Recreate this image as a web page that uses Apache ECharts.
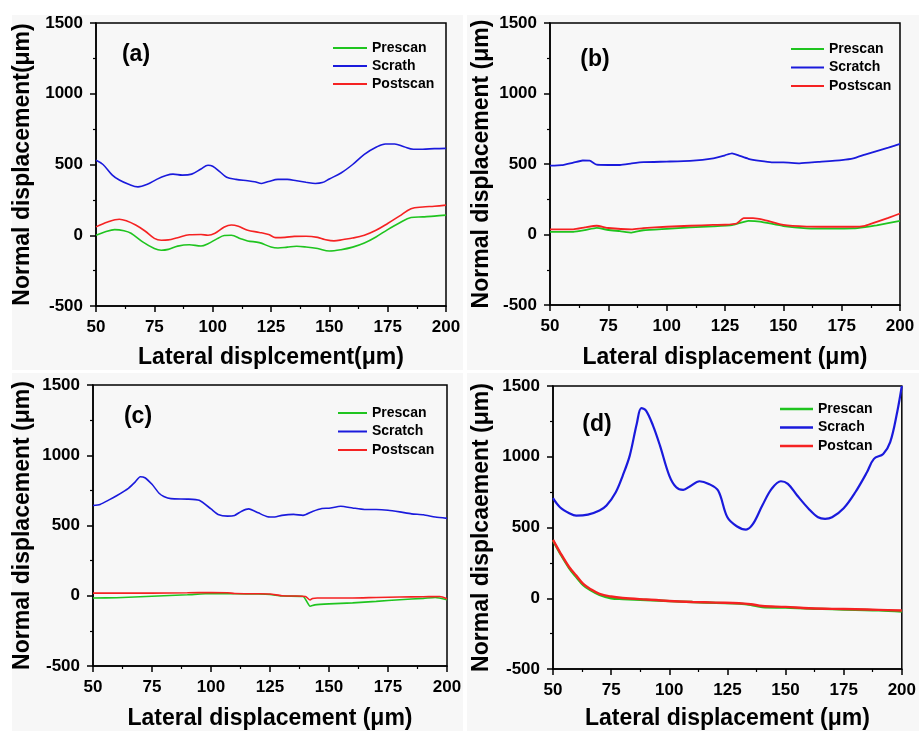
<!DOCTYPE html>
<html>
<head>
<meta charset="utf-8">
<script src="https://cdn.jsdelivr.net/npm/echarts@6/dist/echarts.min.js"></script>
<style>
  html, body { margin: 0; padding: 0; background: #fff; }
  #chart { width: 919px; height: 731px; }
</style>
</head>
<body>
<div id="chart"></div>
<script>
// Axis ranges and tick labels shared by the four panels
const xTicks = [50, 75, 100, 125, 150, 175, 200];
const yTicks = [-500, 0, 500, 1000, 1500];

// Panel (a)
const aPrescan = [[50,0],[54,25],[58,40],[62,32],[65,14],[70,-47],[75,-94],[78,-106],[81,-100],[85,-77],[90,-67],[95,-76],[98,-60],[102,-24],[105,-2],[108,0],[112,-24],[115,-40],[120,-52],[125,-83],[128,-90],[132,-84],[136,-78],[140,-83],[145,-94],[150,-111],[155,-102],[160,-84],[165,-55],[170,-12],[175,40],[180,87],[185,125],[190,130],[195,135],[200,142]];
const aScrath = [[50,530],[53,500],[57,425],[60,390],[64,360],[68,342],[72,360],[76,395],[80,422],[83,432],[87,425],[91,432],[95,468],[98,495],[100,488],[103,450],[106,410],[110,395],[115,385],[118,378],[121,366],[124,380],[128,395],[132,395],[136,385],[140,375],[144,366],[147,372],[150,398],[155,440],[160,500],[165,572],[170,622],[174,645],[178,645],[182,625],[186,608],[190,608],[195,612],[200,614]];
const aPostscan = [[50,59],[55,94],[60,113],[63,102],[67,72],[71,30],[75,-22],[78,-35],[81,-33],[85,-17],[90,3],[95,5],[98,0],[101,14],[105,58],[108,72],[111,63],[115,35],[120,20],[124,5],[127,-17],[131,-15],[135,-8],[140,-7],[145,-15],[148,-30],[152,-40],[156,-30],[160,-20],[165,0],[170,35],[175,83],[180,135],[185,188],[190,200],[195,205],[200,213]];

// Panel (b)
const bPrescan = [[50,19],[60,19],[65,31],[70,47],[75,32],[80,24],[85,14],[90,30],[100,40],[110,50],[120,57],[128,66],[135,97],[140,92],[150,60],[160,44],[170,41],[180,43],[185,52],[190,64],[200,97]];
const bScratch = [[50,488],[55,492],[60,510],[64,525],[67,524],[70,495],[75,493],[80,493],[85,504],[90,513],[100,517],[110,522],[120,540],[125,562],[128,576],[131,560],[135,537],[140,522],[145,512],[150,512],[157,505],[165,515],[175,528],[180,540],[185,567],[190,592],[195,616],[200,642]];
const bPostscan = [[50,36],[60,36],[65,50],[70,62],[75,46],[85,36],[90,45],[100,55],[110,62],[120,68],[125,69],[130,78],[133,116],[137,116],[142,102],[150,68],[160,56],[170,55],[180,55],[185,62],[190,90],[195,118],[200,149]];

// Panel (c)
const cPrescan = [[50,-16],[60,-14],[70,-7],[80,0],[90,7],[100,16],[110,14],[120,12],[125,9],[130,-2],[139,-5],[142,-75],[144,-65],[150,-58],[160,-51],[170,-40],[180,-28],[190,-19],[195,-12],[200,-28]];
const cScratch = [[50,642],[53,650],[57,684],[60,712],[65,765],[68,812],[70,847],[72,840],[75,793],[78,730],[80,707],[83,691],[90,688],[95,679],[100,618],[103,579],[107,567],[110,572],[113,602],[116,618],[120,590],[124,562],[127,560],[130,572],[135,579],[139,572],[143,600],[147,621],[150,623],[155,637],[160,625],[165,614],[170,614],[175,609],[180,597],[185,583],[190,576],[195,560],[200,551]];
const cPostscan = [[50,19],[60,19],[75,19],[90,21],[100,23],[107,21],[110,16],[120,14],[125,12],[130,0],[135,-2],[140,-5],[142,-30],[143,-19],[145,-16],[160,-16],[170,-12],[180,-9],[190,-7],[197,-5],[200,-21]];

// Panel (d)
const dPrescan = [[50,408],[53,318],[57,212],[60,150],[63,93],[66,58],[70,24],[75,0],[80,-5],[90,-12],[100,-20],[110,-27],[120,-33],[130,-38],[135,-46],[140,-62],[150,-66],[160,-73],[170,-77],[180,-82],[190,-86],[200,-94]];
const dScrach = [[50,707],[53,643],[57,601],[60,584],[65,591],[70,620],[73,655],[77,749],[80,867],[83,1008],[86,1232],[88,1343],[90,1326],[93,1220],[96,1079],[100,867],[103,784],[106,766],[109,792],[113,827],[117,808],[121,761],[125,572],[129,509],[133,485],[136,525],[140,655],[144,773],[148,827],[151,808],[155,726],[160,631],[164,572],[167,561],[170,572],[175,636],[180,749],[185,890],[188,985],[192,1020],[195,1103],[198,1315],[200,1500]];
const dPostcan = [[50,412],[53,325],[57,219],[60,160],[63,101],[66,66],[70,31],[75,12],[80,2],[90,-9],[100,-19],[110,-26],[120,-31],[130,-35],[135,-42],[140,-55],[150,-61],[160,-71],[170,-75],[180,-78],[190,-82],[200,-87]];

const GREEN = '#1fc41f';
const BLUE = '#1a1adc';
const RED = '#f52222';
const FONT = '"Liberation Sans", Arial, sans-serif';

// Layout and naming of each panel
const panels = [
  { tag: '(a)', grid: {left: 96, top: 23, width: 350, height: 283},
    xName: 'Lateral displcement(\u03bcm)', yName: 'Normal displacement(\u03bcm)', xGap: 40, yGap: 62,
    names: ['Prescan', 'Scrath', 'Postscan'], data: [aPrescan, aScrath, aPostscan],
    widths: [1.6, 1.6, 1.6], smooth: 0.35,
    legend: {left: 333, top: 41, w: 34, h: 2, gap: 4}, tagPos: [136, 55] },
  { tag: '(b)', grid: {left: 550, top: 23, width: 350, height: 282},
    xName: 'Lateral displacement (\u03bcm)', yName: 'Normal displacement (\u03bcm)', xGap: 41, yGap: 57,
    names: ['Prescan', 'Scratch', 'Postscan'], data: [bPrescan, bScratch, bPostscan],
    widths: [1.8, 1.8, 1.8], smooth: 0.15,
    legend: {left: 791, top: 42, w: 33, h: 2, gap: 4.5}, tagPos: [595, 60] },
  { tag: '(c)', grid: {left: 93, top: 385, width: 354, height: 286},
    xName: 'Lateral displacement (\u03bcm)', yName: 'Normal displacement (\u03bcm)', xGap: 41, yGap: 59,
    names: ['Prescan', 'Scratch', 'Postscan'], data: [cPrescan, cScratch, cPostscan],
    widths: [1.6, 1.6, 1.6], smooth: 0.2,
    legend: {left: 338, top: 406, w: 29, h: 2, gap: 4.5}, tagPos: [138, 417] },
  { tag: '(d)', grid: {left: 553, top: 386, width: 351, height: 283},
    xName: 'Lateral displacement (\u03bcm)', yName: 'Normal displcaement (\u03bcm)', xGap: 38, yGap: 60,
    names: ['Prescan', 'Scrach', 'Postcan'], data: [dPrescan, dScrach, dPostcan],
    widths: [2.4, 2.2, 2.4], smooth: 0.35,
    legend: {left: 780, top: 402, w: 33, h: 2.5, gap: 4.5}, tagPos: [597, 425] }
];

const colors = [GREEN, BLUE, RED];
const grids = [], xAxes = [], yAxes = [], series = [], legends = [], graphics = [];

// Light figure background behind each panel
[[12, 15, 451, 355], [467, 15, 452, 355], [12, 373, 451, 358], [467, 373, 452, 358]].forEach(r => {
  graphics.push({ type: 'rect', z: -100, silent: true,
    shape: {x: r[0], y: r[1], width: r[2], height: r[3]}, style: {fill: '#f7f7f7'} });
});

const plain = v => String(v);

panels.forEach((p, i) => {
  grids.push(Object.assign({ show: true, borderColor: '#000', borderWidth: 1.5, backgroundColor: 'transparent' }, p.grid));
  const axisCommon = {
    axisLine: { show: true, onZero: false, lineStyle: { color: '#000', width: 1.5 } },
    axisTick: { show: true, inside: false, length: 6, lineStyle: { color: '#000', width: 1.5 } },
    minorTick: { show: true, splitNumber: 2, length: 3, lineStyle: { color: '#000', width: 1.2 } },
    splitLine: { show: false },
    axisLabel: { color: '#000', fontFamily: FONT, fontWeight: 'bold', fontSize: 17, formatter: plain },
    nameLocation: 'middle',
    nameTextStyle: { color: '#000', fontFamily: FONT, fontWeight: 'bold', fontSize: 23 }
  };
  xAxes.push(Object.assign({}, axisCommon, {
    type: 'value', gridIndex: i, min: xTicks[0], max: xTicks[xTicks.length - 1], interval: 25,
    name: p.xName, nameGap: p.xGap,
    axisLabel: Object.assign({}, axisCommon.axisLabel, { margin: 13 })
  }));
  yAxes.push(Object.assign({}, axisCommon, {
    type: 'value', gridIndex: i, min: yTicks[0], max: yTicks[yTicks.length - 1], interval: 500,
    name: p.yName, nameGap: p.yGap,
    axisLabel: Object.assign({}, axisCommon.axisLabel, { margin: 13 })
  }));
  p.names.forEach((n, k) => {
    series.push({
      type: 'line', name: n, xAxisIndex: i, yAxisIndex: i, data: p.data[k],
      showSymbol: false, symbol: 'none', smooth: p.smooth, color: colors[k],
      lineStyle: { width: p.widths[k], color: colors[k] }, clip: true, silent: true
    });
  });
  legends.push({
    show: true, orient: 'vertical', left: p.legend.left, top: p.legend.top, padding: 0,
    itemWidth: p.legend.w, itemHeight: p.legend.h, itemGap: p.legend.gap, icon: 'rect',
    selectedMode: false, data: p.names,
    textStyle: { color: '#000', fontFamily: FONT, fontWeight: 'bold', fontSize: 14 }
  });
  graphics.push({ type: 'text', x: p.tagPos[0], y: p.tagPos[1], silent: true,
    style: { text: p.tag, fill: '#000', font: 'bold 23px ' + FONT, textAlign: 'center', textVerticalAlign: 'middle' } });
});

const chart = echarts.init(document.getElementById('chart'), null, { renderer: 'canvas' });
chart.setOption({
  backgroundColor: '#ffffff',
  animation: false,
  grid: grids, xAxis: xAxes, yAxis: yAxes, series: series,
  legend: legends, graphic: graphics
});
</script>
</body>
</html>
